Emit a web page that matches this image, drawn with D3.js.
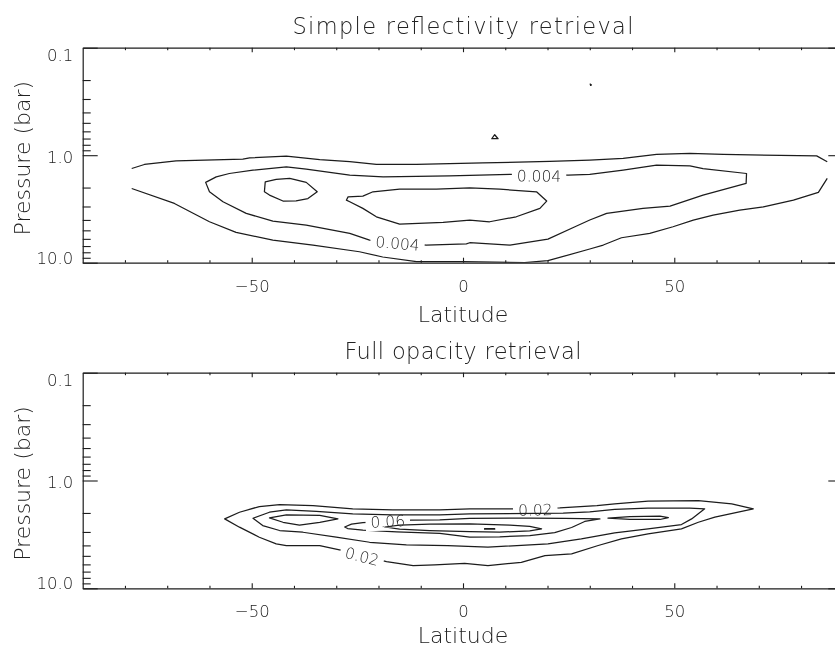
<!DOCTYPE html>
<html>
<head>
<meta charset="utf-8">
<script src="https://cdn.jsdelivr.net/npm/d3@7"></script>
<style>
  html, body { margin: 0; padding: 0; background: #fff; }
  svg { display: block; filter: grayscale(100%); }
  text { font-family: "DejaVu Sans", sans-serif; font-weight: 200; fill: #222; }
</style>
</head>
<body>
<svg id="chart" width="835" height="648"></svg>
<script>
// ---------- axes ----------
const latMajorTicks = [-50, 0, 50];
const latMinorTicks = [-80, -70, -60, -40, -30, -20, -10, 10, 20, 30, 40, 60, 70, 80];
const pressureMajorTicks = [0.1, 1.0, 10.0];
const pressureMinorTicks = [0.2, 0.3, 0.4, 0.5, 0.6, 0.7, 0.8, 0.9, 2, 3, 4, 5, 6, 7, 8, 9];

// ---------- simple reflectivity retrieval: contour lines [latitude, pressure (bar)] ----------
const reflOuterNorth = [[-78.4,1.33],[-75.4,1.22],[-67.9,1.13],[-52.1,1.09],[-50.5,1.06],[-41.8,1.02],[-33.9,1.10],[-26.8,1.15],[-20.5,1.22],[-11.0,1.22],[4.7,1.18],[20.5,1.14],[30.0,1.11],[37.9,1.07],[45.8,0.985],[53.7,0.964],[61.6,0.985],[83.7,1.015],[86.2,1.15]];
const reflOuterSouth = [[86.2,1.645],[84.1,2.22],[78.2,2.62],[71.1,3.02],[65.5,3.24],[59.2,3.61],[54.5,4.01],[49.7,4.63],[44.2,5.33],[37.5,5.86],[33.2,6.85],[30.0,7.46],[20.1,9.58],[14.6,9.96],[7.5,9.9],[0,9.75],[-11,9.78],[-19,8.85],[-24.5,7.91],[-35.5,6.85],[-45,6.16],[-53.7,5.22],[-60,4.16],[-68.3,2.81],[-78.4,2.04]];
const refl004 = [[-60.9,1.79],[-58.4,1.59],[-55.3,1.48],[-49.7,1.378],[-41.8,1.285],[-37.1,1.349],[-26.8,1.534],[-18.9,1.59],[-3.2,1.56],[11.1,1.51],[24.9,1.534],[30.0,1.51],[37.9,1.378],[45.8,1.238],[53.7,1.257],[56.8,1.33],[67.1,1.48],[67.0,1.83],[56.8,2.352],[49.0,2.975],[42.6,3.125],[34.0,3.48],[30.0,4.01],[26.5,4.63],[20.1,6.03],[11.1,6.85],[1.6,6.52],[0.8,6.67],[-8.7,6.85],[-22.1,6.16],[-26.8,5.33],[-37.1,4.47],[-45.0,4.10],[-51.3,3.48],[-56.8,2.71],[-60.0,2.19]];
const reflWestCore = [[-46.8,1.77],[-44.2,1.68],[-41.0,1.645],[-37.1,1.79],[-34.5,2.19],[-36.7,2.53],[-39.5,2.66],[-42.6,2.67],[-45.8,2.35],[-47.0,2.19]];
const reflEastCore = [[-27.6,2.62],[-27.2,2.44],[-23.7,2.40],[-21.3,2.19],[-15.0,2.07],[-6.3,2.07],[1.6,2.01],[8.7,2.07],[17.4,2.19],[19.8,2.67],[18.2,3.125],[12.6,3.74],[6.3,4.16],[1.6,4.01],[-4.7,4.22],[-15.0,4.37],[-20.5,3.74],[-23.7,3.125],[-26.8,2.71]];
const reflSpeckA = [[6.8,0.703],[7.5,0.645],[8.3,0.703]];
const reflSpeckB = [[30.1,0.218],[30.4,0.222],[30.2,0.224]];
// labels: [level, latitude, pressure]
const reflLabels = [[0.004, 18.0, 1.56], [0.004, -15.5, 6.61]];

// ---------- full opacity retrieval ----------
const opac002 = [[-56.4,2.27],[-52.9,1.97],[-48.2,1.744],[-43.4,1.671],[-35.5,1.71],[-26.1,1.83],[-16.6,1.87],[-5.5,1.87],[1.6,1.83],[11.8,1.83],[22.9,1.79],[31.7,1.71],[35.9,1.645],[43.8,1.557],[55.7,1.534],[63.6,1.645],[68.7,1.83],[59.6,2.19],[55.7,2.44],[51.7,2.81],[43.8,3.125],[37.5,3.48],[32.0,4.01],[25.7,4.79],[19.4,4.97],[13.8,5.74],[5.9,6.16],[0.4,5.86],[-6.7,6.06],[-11.8,6.16],[-18.1,5.65],[-28.4,4.47],[-33.9,4.01],[-41.8,4.01],[-44.2,3.87],[-48.2,3.36],[-52.9,2.71]];
const opac004 = [[-49.7,2.24],[-45.8,1.97],[-41.8,1.87],[-34.7,1.93],[-26.1,2.04],[-16.6,2.08],[-5.5,2.08],[1.6,2.04],[23.7,2.01],[30.0,1.95],[35.9,1.85],[43.7,1.80],[53.7,1.80],[57.2,1.83],[54.1,2.27],[51.7,2.56],[43.8,2.81],[35.9,3.06],[28.0,3.48],[20.1,3.87],[5.9,4.16],[-3.6,4.01],[-13.4,3.96],[-22.1,3.74],[-30.0,3.36],[-37.9,3.02],[-43.4,2.91],[-47.4,2.62]];
const opac006West = [[-45.8,2.22],[-41.8,2.08],[-33.9,2.11],[-29.6,2.27],[-33.9,2.44],[-38.7,2.59],[-42.6,2.44]];
const opac006 = [[-28.0,2.70],[-26.4,2.54],[-23.7,2.455],[-12.2,2.33],[-5.5,2.32],[1.6,2.24],[15.8,2.23],[24.1,2.25],[32.4,2.27],[28.8,2.40],[25.7,2.73],[21.7,3.04],[15.8,3.24],[8.7,3.33],[1.6,3.36],[-5.5,3.10],[-15.7,2.995],[-23.7,2.89],[-27.3,2.79]];
const opac006East = [[34.3,2.23],[39.5,2.16],[46.6,2.14],[48.6,2.21],[46.6,2.30],[39.5,2.30]];
const opac008 = [[-18.5,2.70],[-15.0,2.59],[-7.9,2.54],[1.6,2.53],[11.1,2.59],[15.8,2.67],[18.6,2.81],[15.8,2.94],[8.7,3.01],[1.6,2.98],[-7.9,2.91],[-15.0,2.82]];
const opac010 = [[5.1,2.80],[7.5,2.80],[7.5,2.83],[5.1,2.83]];
const opacLabels = [[0.02, 17.1, 1.87], [0.02, -23.9, 5.05], [0.06, -17.8, 2.39]];

const panels = [
  {
    title: "Simple reflectivity retrieval",
    titleWidth: 341,
    top: 47.7, bottom: 262.7,
    contours: [
      { level: 0.002, closed: false, points: reflOuterNorth },
      { level: 0.002, closed: false, points: reflOuterSouth },
      { level: 0.004, closed: true, points: refl004 },
      { level: 0.006, closed: true, points: reflWestCore },
      { level: 0.006, closed: true, points: reflEastCore },
      { level: 0.002, closed: true, points: reflSpeckA },
      { level: 0.002, closed: true, points: reflSpeckB }
    ],
    labels: reflLabels
  },
  {
    title: "Full opacity retrieval",
    titleWidth: 237,
    top: 372.7, bottom: 588.3,
    contours: [
      { level: 0.02, closed: true, points: opac002 },
      { level: 0.04, closed: true, points: opac004 },
      { level: 0.06, closed: true, points: opac006West },
      { level: 0.06, closed: true, points: opac006 },
      { level: 0.06, closed: true, points: opac006East },
      { level: 0.08, closed: true, points: opac008 },
      { level: 0.10, closed: true, points: opac010 }
    ],
    labels: opacLabels
  }
];

const W = 835, H = 648;
const svg = d3.select("#chart");
const defs = svg.append("defs");
const x = d3.scaleLinear().domain([-90, 90]).range([82.7, 843.3]);
const ink = "#1c1c1c";

// distance from a point to the polyline, and direction of the closest segment
function nearestSegment(pts, closed, px, py) {
  let best = Infinity, ang = 0;
  const n = closed ? pts.length : pts.length - 1;
  for (let i = 0; i < n; i++) {
    const a = pts[i], b = pts[(i + 1) % pts.length];
    const dx = b[0] - a[0], dy = b[1] - a[1];
    const len2 = dx * dx + dy * dy || 1;
    let t = ((px - a[0]) * dx + (py - a[1]) * dy) / len2;
    t = Math.max(0, Math.min(1, t));
    const qx = a[0] + t * dx, qy = a[1] + t * dy;
    const d = (px - qx) ** 2 + (py - qy) ** 2;
    if (d < best) { best = d; ang = Math.atan2(dy, dx) * 180 / Math.PI; }
  }
  if (ang > 90) ang -= 180;
  if (ang <= -90) ang += 180;
  return { dist: best, angle: ang };
}

panels.forEach((panel, pi) => {
  // pressure grows downward
  const y = d3.scaleLog().domain([0.1, 10]).range([panel.top, panel.bottom]);
  const x0 = x(-90), x1 = x(90);

  defs.append("clipPath").attr("id", "plot-clip-" + pi)
    .append("rect").attr("x", x0).attr("y", panel.top)
    .attr("width", x1 - x0).attr("height", panel.bottom - panel.top);

  // contour geometry in pixels
  const contours = panel.contours.map((c, ci) => ({
    ...c, id: "c" + pi + "-" + ci,
    px: c.points.map(d => [x(d[0]), y(d[1])])
  }));

  // contour labels: text is the contour level, gap cut into that contour
  const labelLayer = svg.append("g");
  const gaps = new Map();
  panel.labels.forEach(([level, lat, p]) => {
    const lx = x(lat), ly = y(p);
    let target = null, info = null;
    contours.filter(c => c.level === level).forEach(c => {
      const r = nearestSegment(c.px, c.closed, lx, ly);
      if (!info || r.dist < info.dist) { info = r; target = c; }
    });
    const t = labelLayer.append("text")
      .attr("transform", `translate(${lx},${ly}) rotate(${info.angle})`)
      .attr("text-anchor", "middle")
      .attr("dy", "0.36em")
      .style("font-size", "15.5px")
      .text(String(level));
    const w = t.node().getComputedTextLength();
    if (!gaps.has(target.id)) gaps.set(target.id, []);
    gaps.get(target.id).push({ lx, ly, angle: info.angle, w });
  });

  const plot = svg.insert("g", () => labelLayer.node())
    .attr("clip-path", `url(#plot-clip-${pi})`);

  contours.forEach(c => {
    const gen = d3.line().curve(c.closed ? d3.curveLinearClosed : d3.curveLinear);
    const path = plot.append("path")
      .attr("d", gen(c.px))
      .attr("fill", "none")
      .attr("stroke", ink)
      .attr("stroke-width", 1.25)
      .attr("stroke-linejoin", "round");
    if (gaps.has(c.id)) {
      const m = defs.append("mask").attr("id", "mask-" + c.id)
        .attr("maskUnits", "userSpaceOnUse")
        .attr("x", 0).attr("y", 0).attr("width", W).attr("height", H);
      m.append("rect").attr("width", W).attr("height", H).attr("fill", "#fff");
      gaps.get(c.id).forEach(g => {
        m.append("rect")
          .attr("transform", `translate(${g.lx},${g.ly}) rotate(${g.angle})`)
          .attr("x", -g.w / 2 - 5).attr("y", -9)
          .attr("width", g.w + 10).attr("height", 18)
          .attr("fill", "#000");
      });
      path.attr("mask", `url(#mask-${c.id})`);
    }
  });

  // axes: ticks drawn inward
  const axes = svg.append("g").attr("class", "axes");
  const styleAxis = g => {
    g.selectAll(".domain").attr("stroke", ink).attr("stroke-width", 1.2);
    g.selectAll(".tick line").attr("stroke", ink).attr("stroke-width", 1.1);
  };

  // bottom
  axes.append("g").attr("transform", `translate(0,${panel.bottom})`)
    .call(d3.axisBottom(x).tickValues(latMinorTicks).tickSize(-2.5).tickSizeOuter(0).tickFormat(""))
    .call(styleAxis);
  const xb = axes.append("g").attr("transform", `translate(0,${panel.bottom})`)
    .call(d3.axisBottom(x).tickValues(latMajorTicks).tickSize(-5).tickSizeOuter(0).tickPadding(17))
    .call(styleAxis);
  xb.selectAll(".tick text").attr("fill", "#222").style("font-size", "16.5px")
    .attr("font-family", null).attr("y", 29).attr("dy", null);
  xb.select(".domain").remove();

  // top
  axes.append("g").attr("transform", `translate(0,${panel.top})`)
    .call(d3.axisTop(x).tickValues(latMinorTicks).tickSize(-2.5).tickSizeOuter(0).tickFormat(""))
    .call(styleAxis);
  axes.append("g").attr("transform", `translate(0,${panel.top})`)
    .call(d3.axisTop(x).tickValues(latMajorTicks).tickSize(-4.5).tickSizeOuter(0).tickFormat(""))
    .call(styleAxis)
    .select(".domain").remove();

  // left
  axes.append("g").attr("transform", `translate(${x0},0)`)
    .call(d3.axisLeft(y).tickValues(pressureMinorTicks).tickSize(-8).tickSizeOuter(0).tickFormat(""))
    .call(styleAxis);
  const yl = axes.append("g").attr("transform", `translate(${x0},0)`)
    .call(d3.axisLeft(y).tickValues(pressureMajorTicks).tickSize(-15).tickSizeOuter(0)
      .tickPadding(9.5).tickFormat(d3.format(".1f")))
    .call(styleAxis);
  yl.select(".domain").remove();
  yl.selectAll(".tick text").attr("fill", "#222").style("font-size", "16.5px")
    .attr("font-family", null).attr("dy", null)
    .attr("y", d => {
      // centred on the tick, kept inside the axis extent
      const ty = y(d);
      const base = ty + 7;
      return Math.min(Math.max(base, panel.top + 12.3), panel.bottom + 0.5) - ty;
    });

  // right
  axes.append("g").attr("transform", `translate(${x1},0)`)
    .call(d3.axisRight(y).tickValues(pressureMinorTicks).tickSize(-8).tickSizeOuter(0).tickFormat(""))
    .call(styleAxis);
  axes.append("g").attr("transform", `translate(${x1},0)`)
    .call(d3.axisRight(y).tickValues(pressureMajorTicks).tickSize(-15).tickSizeOuter(0).tickFormat(""))
    .call(styleAxis)
    .select(".domain").remove();

  // titles
  const cx = (x0 + x1) / 2;
  svg.append("text")
    .attr("x", cx).attr("y", panel.top - 13.5)
    .attr("text-anchor", "middle")
    .attr("textLength", panel.titleWidth).attr("lengthAdjust", "spacing")
    .style("font-size", "22.5px")
    .text(panel.title);
  svg.append("text")
    .attr("x", cx).attr("y", Math.min(panel.bottom + 59.5, H - 5.5))
    .attr("text-anchor", "middle")
    .style("font-size", "22px")
    .text("Latitude");
  svg.append("text")
    .attr("transform", `translate(29.5,${(panel.top + panel.bottom) / 2 + 3}) rotate(-90)`)
    .attr("text-anchor", "middle")
    .style("font-size", "22px")
    .text("Pressure (bar)");
});
</script>
</body>
</html>
